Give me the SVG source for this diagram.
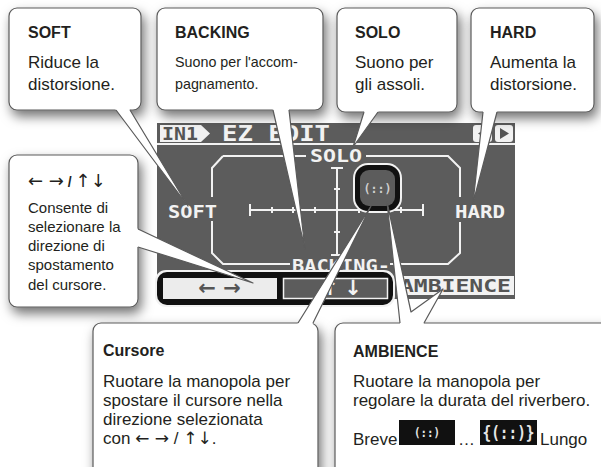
<svg xmlns="http://www.w3.org/2000/svg" width="601" height="467" viewBox="0 0 601 467">
<defs>
<filter id="sh" x="-20%" y="-20%" width="150%" height="150%">
<feDropShadow dx="3" dy="6" stdDeviation="6" flood-color="#000" flood-opacity="0.55"/>
</filter>
</defs>
<style>
.box{fill:#fff;stroke:#5a5a5a;stroke-width:1.2;filter:url(#sh)}
.t{font-family:"Liberation Sans",Arial,sans-serif;fill:#231f20}
.h{font-weight:bold;font-size:16px}
.b{font-size:17px}
.m{font-size:14.3px}
.s{font-size:15px}
.a{font-family:"DejaVu Sans",sans-serif}
.w{fill:#fff;stroke:none}
.e{fill:none;stroke:#5a5a5a;stroke-width:1.2;stroke-linejoin:round}
.lcd{font-family:"DejaVu Sans Mono",monospace;font-weight:bold;fill:#f2f2f2}
.dk{fill:#555}
.ln{stroke:#f2f2f2;stroke-width:2;fill:none}
.ar{font-family:"DejaVu Sans",sans-serif;font-weight:bold;font-size:21px}
</style>
<rect width="601" height="467" fill="#fff"/>
<g id="lcd">
<rect x="157" y="123" width="358" height="176" fill="#5c5c5c"/>
<path d="M160,125 H201 L210,133.5 L201,142 H160 Z" fill="#f2f2f2"/>
<text x="162" y="140" class="lcd dk" font-size="17" textLength="36" lengthAdjust="spacingAndGlyphs">IN1</text>
<text x="222" y="141" class="lcd" font-size="21" textLength="108" lengthAdjust="spacingAndGlyphs">EZ EDIT</text>
<rect x="473" y="125" width="19" height="17" rx="3" fill="#f2f2f2"/>
<path d="M487,128 L478,133.5 L487,139 Z" fill="#555"/>
<rect x="495" y="125" width="18" height="17" rx="3" fill="#f2f2f2"/>
<path d="M500,128 L509,133.5 L500,139 Z" fill="#555"/>
<rect x="157" y="143" width="358" height="2" fill="#f2f2f2"/>
<text x="336" y="162" text-anchor="middle" class="lcd" font-size="18" textLength="52" lengthAdjust="spacingAndGlyphs">SOLO</text>
<path class="ln" d="M223,156 H306 M366,156 H448 L460,168 V197 M460,222 V253 L448,264 H390 M290,264 H223 L212,253 V221 M212,197 V168 L223,156"/>
<text x="168" y="218" class="lcd" font-size="18" textLength="49" lengthAdjust="spacingAndGlyphs">SOFT</text>
<text x="455" y="218" class="lcd" font-size="18" textLength="50" lengthAdjust="spacingAndGlyphs">HARD</text>
<text x="292" y="272" class="lcd" font-size="18" textLength="98" lengthAdjust="spacingAndGlyphs">BACKING-</text>
<path class="ln" d="M250,210 H423 M250,204 V216 M423,204 V216 M272,207 V213 M293,207 V213 M315,207 V213 M359,207 V213 M380,207 V213 M401,207 V213 M337,168 V255 M331,168 H343 M331,255 H343 M334,189 H340 M334,232 H340"/>
<rect x="353" y="163" width="49" height="50" rx="15" fill="#f2f2f2"/>
<rect x="355" y="165" width="45" height="46" rx="13" fill="#111"/>
<rect x="360" y="170" width="35" height="36" rx="9" fill="#5c5c5c"/>
<text x="377.5" y="193" text-anchor="middle" class="lcd" font-size="13" textLength="28" lengthAdjust="spacingAndGlyphs" style="fill:#cfcfcf">(::)</text>
<rect x="155" y="270" width="240" height="37" rx="11" fill="#f2f2f2"/>
<rect x="157" y="272" width="236" height="33" rx="10" fill="#111"/>
<rect x="163" y="278" width="114" height="21" fill="#ececec"/>
<rect x="283.5" y="278.5" width="104" height="20" fill="#5c5c5c" stroke="#f2f2f2" stroke-width="1.5"/>
<text x="207" y="295" text-anchor="middle" class="ar" fill="#555">←</text>
<text x="232" y="295" text-anchor="middle" class="ar" fill="#555">→</text>
<text x="330" y="295" text-anchor="middle" class="ar" fill="#f2f2f2">↑</text>
<text x="353" y="295" text-anchor="middle" class="ar" fill="#f2f2f2">↓</text>
<rect x="397" y="276" width="117" height="19" fill="#f2f2f2"/>
<text x="400" y="292" class="lcd dk" font-size="17" textLength="111" lengthAdjust="spacingAndGlyphs">AMBIENCE</text>
</g>
<g id="soft">
<rect class="box" x="9" y="8" width="132" height="102" rx="8"/>
<text class="t h" x="28" y="38">SOFT</text>
<text class="t b" x="28" y="68">Riduce la</text>
<text class="t b" x="28" y="90">distorsione.</text>
</g>
<g id="backing">
<rect class="box" x="157" y="8" width="166" height="102" rx="8"/>
<text class="t h" x="175" y="38">BACKING</text>
<text class="t m" x="175" y="67">Suono per l'accom-</text>
<text class="t m" x="175" y="89">pagnamento.</text>
</g>
<g id="solo">
<rect class="box" x="337" y="8" width="120" height="104" rx="8"/>
<text class="t h" x="355" y="38">SOLO</text>
<text class="t b" x="355" y="68">Suono per</text>
<text class="t b" x="355" y="90">gli assoli.</text>
</g>
<g id="hard">
<rect class="box" x="471" y="8" width="123" height="104" rx="8"/>
<text class="t h" x="490" y="38">HARD</text>
<text class="t b" x="490" y="68">Aumenta la</text>
<text class="t b" x="490" y="90">distorsione.</text>
</g>
<g id="direction">
<rect class="box" x="9" y="155" width="129" height="152" rx="8"/>
<text class="t" x="28" y="187"><tspan class="a" font-size="18">← →</tspan><tspan font-size="14" font-weight="bold"> / </tspan><tspan class="a" font-size="18">↑↓</tspan></text>
<text class="t s" x="28" y="213">Consente di</text>
<text class="t s" x="28" y="232">selezionare la</text>
<text class="t s" x="28" y="251">direzione di</text>
<text class="t s" x="28" y="270">spostamento</text>
<text class="t s" x="28" y="290">del cursore.</text>
</g>
<g id="cursore">
<rect class="box" x="93" y="323" width="225" height="160" rx="8"/>
<text class="t h" x="103" y="356">Cursore</text>
<text class="t b" x="103" y="387">Ruotare la manopola per</text>
<text class="t b" x="103" y="406">spostare il cursore nella</text>
<text class="t b" x="103" y="425">direzione selezionata</text>
<text class="t b" x="103" y="444">con <tspan class="a" font-size="17">← →</tspan> / <tspan class="a" font-size="17">↑↓</tspan>.</text>
</g>
<g id="ambience">
<rect class="box" x="335" y="323" width="280" height="160" rx="8"/>
<text class="t h" x="353" y="357">AMBIENCE</text>
<text class="t b" x="353" y="387">Ruotare la manopola per</text>
<text class="t b" x="353" y="406">regolare la durata del riverbero.</text>
<text class="t b" x="353" y="445">Breve</text>
<rect x="399" y="420" width="56" height="25" fill="#111"/>
<text x="427" y="437" text-anchor="middle" class="lcd" font-size="13" textLength="26" lengthAdjust="spacingAndGlyphs" style="fill:#e6e6e6">(::)</text>
<text class="t b" x="458" y="445">…</text>
<rect x="480" y="420" width="57" height="25" fill="#111"/>
<text x="508.5" y="439" text-anchor="middle" class="lcd" font-size="17" textLength="52" lengthAdjust="spacingAndGlyphs" style="fill:#e6e6e6">{(::)}</text>
<text class="t b" x="540" y="445">Lungo</text>
</g>
<g id="connectors">
<path class="w" d="M114.5,108 L188,206 L128.8,108 Z"/>
<path class="e" d="M116,110 L188,206 L130,110"/>
<path class="w" d="M272.5,108 L305,249 L288.8,108 Z"/>
<path class="e" d="M273,110 L305,249 L289,110"/>
<path class="w" d="M364.6,110 L353,147 L379.4,110 Z"/>
<path class="e" d="M364,112 L353,147 L378,112"/>
<path class="w" d="M483.2,110 L473,203 L497.5,110 Z"/>
<path class="e" d="M483,112 L473,203 L497,112"/>
<path class="w" d="M136,228.1 L253,283 L136,246.4 Z"/>
<path class="e" d="M138,229 L253,283 L138,247"/>
<path class="w" d="M296.8,325 L371,206 L312,325 Z"/>
<path class="e" d="M298,323 L371,206 L313,323"/>
<path class="w" d="M400.2,325 L387,202 L411,312 L443,289 L422.9,325 Z"/>
<path class="e" d="M400,323 L387,202 L411,312 L443,289 L424,323"/>
</g>
</svg>
